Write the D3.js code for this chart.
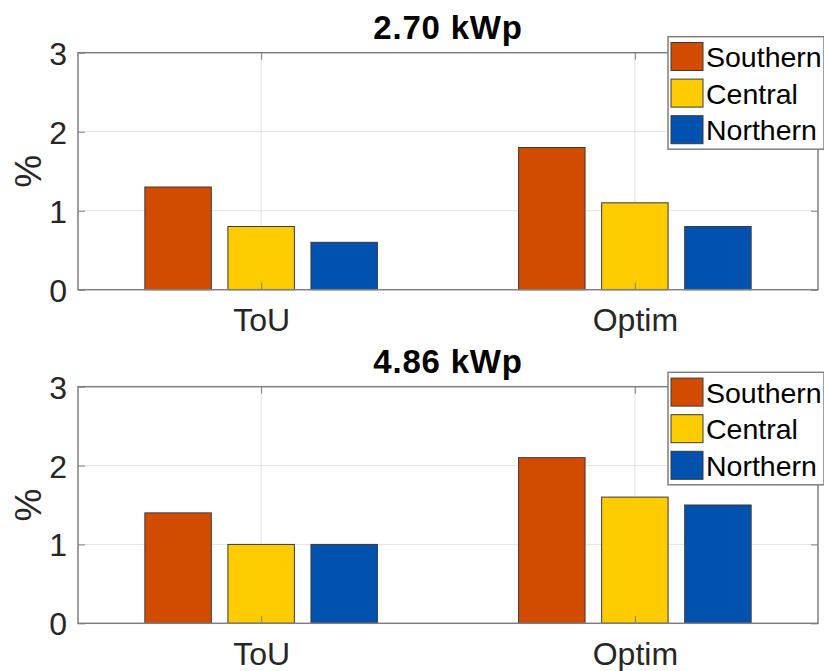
<!DOCTYPE html>
<html>
<head>
<meta charset="utf-8">
<script src="https://cdn.jsdelivr.net/npm/d3@7"></script>
<style>
  html, body { margin: 0; padding: 0; background: #fff; }
  svg { display: block; font-family: "Liberation Sans", Arial, Helvetica, sans-serif; }
</style>
</head>
<body>
<svg id="chart" width="824" height="671"></svg>
<script>
// ---- data ----
const categories = ["ToU", "Optim"];
const regions = ["Southern", "Central", "Northern"];
const colors = ["#D24C00", "#FECC00", "#0052AE"];
const panelTitles = ["2.70 kWp", "4.86 kWp"];
const southern270 = [1.3, 1.8];
const central270  = [0.8, 1.1];
const northern270 = [0.6, 0.8];
const southern486 = [1.4, 2.1];
const central486  = [1.0, 1.6];
const northern486 = [1.0, 1.5];
const yTicks = [0, 1, 2, 3];
const yLabel = "%";

const panelData = [
  [southern270, central270, northern270],
  [southern486, central486, northern486]
];

// ---- layout ----
const svg = d3.select("#chart");
const panels = [
  { top: 52.7, bottom: 289.7, legendTop: 36.7 },
  { top: 386.7, bottom: 623.3, legendTop: 372.3 }
];
const left = 78, right = 818;
const axisColor = "#7f7f7f";
const textColor = "#262626";

const x = d3.scaleLinear().domain([0.51, 2.49]).range([left, right]);
const groupStep = 0.2222;
const barW = 0.1778;

panels.forEach((p, pi) => {
  const y = d3.scaleLinear().domain([0, 3]).range([p.bottom, p.top]);
  const g = svg.append("g");

  g.selectAll(".hgrid").data(yTicks.slice(1, -1)).enter().append("line")
    .attr("x1", left).attr("x2", right)
    .attr("y1", d => y(d)).attr("y2", d => y(d))
    .attr("stroke", "#e3e3e3").attr("stroke-width", 1);
  g.selectAll(".vgrid").data(categories).enter().append("line")
    .attr("x1", (d, i) => x(i + 1)).attr("x2", (d, i) => x(i + 1))
    .attr("y1", p.top).attr("y2", p.bottom)
    .attr("stroke", "#e3e3e3").attr("stroke-width", 1);

  panelData[pi].forEach((series, si) => {
    g.selectAll(".bar" + si).data(series).enter().append("rect")
      .attr("x", (d, ci) => x(ci + 1 + (si - 1) * groupStep - barW / 2))
      .attr("width", x(barW) - x(0))
      .attr("y", d => y(d))
      .attr("height", d => y(0) - y(d))
      .attr("fill", colors[si])
      .attr("stroke", "#3a3a3a").attr("stroke-width", 1);
  });

  g.append("rect")
    .attr("x", left).attr("y", p.top)
    .attr("width", right - left).attr("height", p.bottom - p.top)
    .attr("fill", "none").attr("stroke", axisColor).attr("stroke-width", 1.5);

  const yAxisL = d3.axisLeft(y).tickValues(yTicks).tickSize(-7).tickPadding(11).tickFormat(d3.format("d"));
  const ya = g.append("g").attr("transform", `translate(${left},0)`).call(yAxisL);
  ya.select(".domain").remove();
  ya.selectAll(".tick line").attr("stroke", axisColor);
  ya.selectAll(".tick text").attr("fill", textColor).style("font-size", "32px")
    .attr("dy", "0.36em");
  const yAxisR = d3.axisRight(y).tickValues(yTicks).tickSize(-7).tickFormat("");
  const yr = g.append("g").attr("transform", `translate(${right},0)`).call(yAxisR);
  yr.select(".domain").remove();
  yr.selectAll(".tick line").attr("stroke", axisColor);

  const xAxisB = d3.axisBottom(x).tickValues([1, 2]).tickSize(-7).tickPadding(19)
    .tickFormat(d => categories[d - 1]);
  const xb = g.append("g").attr("transform", `translate(0,${p.bottom})`).call(xAxisB);
  xb.select(".domain").remove();
  xb.selectAll(".tick line").attr("stroke", axisColor);
  xb.selectAll(".tick text").attr("fill", textColor).style("font-size", "32px");
  const xAxisT = d3.axisTop(x).tickValues([1, 2]).tickSize(-7).tickFormat("");
  const xt = g.append("g").attr("transform", `translate(0,${p.top})`).call(xAxisT);
  xt.select(".domain").remove();
  xt.selectAll(".tick line").attr("stroke", axisColor);

  g.append("text")
    .attr("transform", `translate(41,${(p.top + p.bottom) / 2}) rotate(-90)`)
    .attr("text-anchor", "middle")
    .attr("fill", textColor).style("font-size", "37px")
    .text(yLabel);

  g.append("text")
    .attr("x", (left + right) / 2).attr("y", p.top - 14)
    .attr("text-anchor", "middle")
    .attr("fill", "#000").style("font-size", "33px").style("font-weight", "bold")
    .style("letter-spacing", "0.8px")
    .text(panelTitles[pi]);

  const lx = 668, ly = p.legendTop;
  const lg = g.append("g");
  lg.append("rect").attr("x", lx).attr("y", ly).attr("width", 156).attr("height", 112.5)
    .attr("fill", "#fff").attr("stroke", axisColor).attr("stroke-width", 1.5);
  regions.forEach((r, ri) => {
    const cy = ly + 19.8 + ri * 36.6;
    lg.append("rect").attr("x", lx + 3).attr("y", cy - 14).attr("width", 32).attr("height", 28)
      .attr("fill", colors[ri]).attr("stroke", "#3a3a3a").attr("stroke-width", 1);
    lg.append("text").attr("x", lx + 38).attr("y", cy + 10.5)
      .attr("fill", "#000").style("font-size", "28.5px").text(r);
  });
});
</script>
</body>
</html>
